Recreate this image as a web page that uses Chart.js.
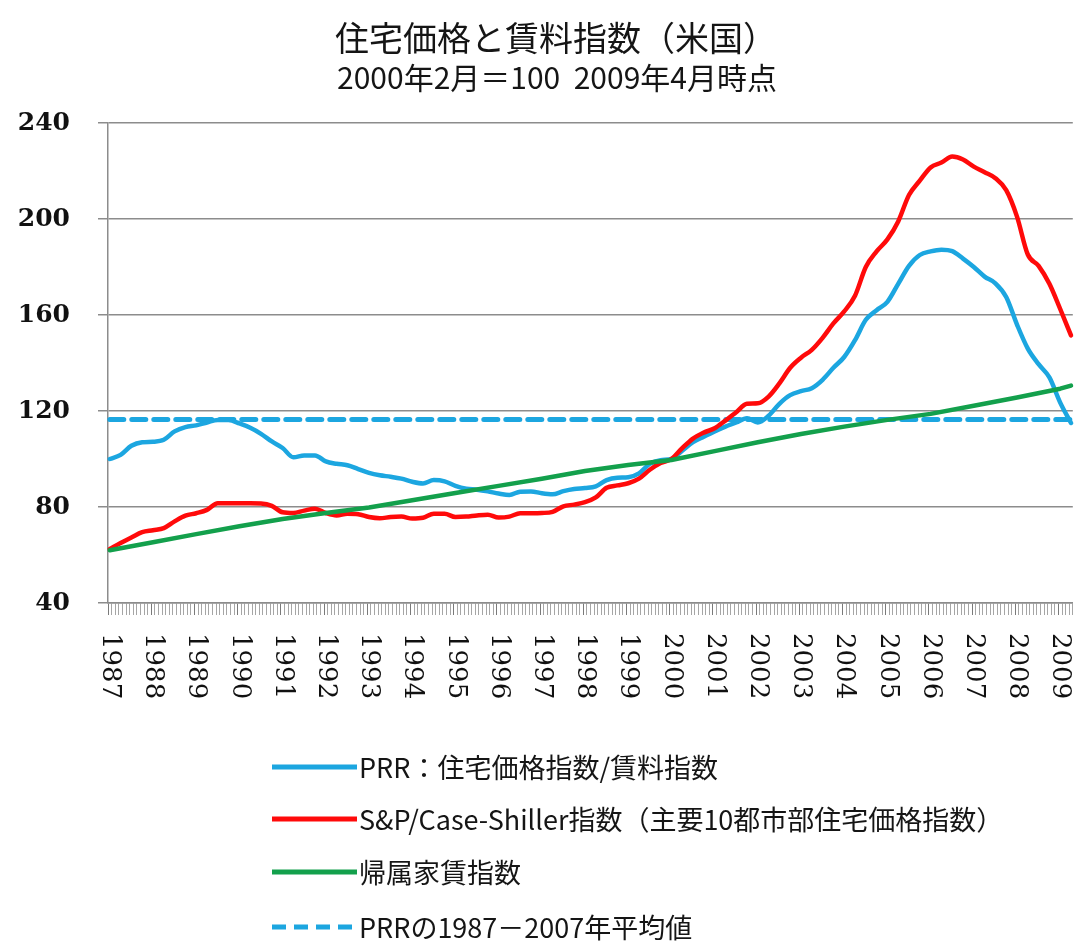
<!DOCTYPE html>
<html>
<head>
<meta charset="utf-8">
<script src="https://cdn.jsdelivr.net/npm/chart.js@4.4.1/dist/chart.umd.min.js"></script>
<style>
  html, body { margin: 0; padding: 0; background: #ffffff; }
  #wrap { width: 1074px; height: 941px; position: relative; }
</style>
</head>
<body>
<div id="wrap"><canvas id="c" width="1074" height="941"></canvas></div>
<script>
// ---------- texts ----------
const titleText = '住宅価格と賃料指数（米国）';
const subtitleText = '2000年2月＝100  2009年4月時点';

// ---------- categories / tick labels ----------
const yearLabels = ['1987','1988','1989','1990','1991','1992','1993','1994','1995','1996','1997','1998',
                    '1999','2000','2001','2002','2003','2004','2005','2006','2007','2008','2009'];
const lastMonthOf2009 = 4; // data run to April 2009

// ---------- series values ----------
// PRR (house price index / rent index), read at Jan, Apr, Jul, Oct of each year (1987-01 .. 2009-04)
const prrQuarterly = [
  100, 101.7, 105.5, 107,
  107.2, 108, 111.5, 113.3,
  114, 115.2, 116.3, 116.2,
  114.8, 113, 110.5, 107.3,
  104.6, 100.7, 101.5, 101.5,
  99, 98, 97.4, 95.8,
  94.2, 93.2, 92.6, 91.8,
  90.5, 89.8, 91.2, 90.7,
  88.8, 87.6, 87.2, 86.5,
  85.6, 85, 86.4, 86.5,
  85.7, 85.3, 86.6, 87.5,
  87.9, 88.6, 91.2, 92.2,
  92.4, 94, 98, 99.5,
  100, 103.5, 107, 109.3,
  111.5, 113.5, 115.2, 117,
  115.2, 118, 123, 126.6,
  128.3, 129.5, 133, 138,
  142.5, 149.5, 158, 162,
  165.5, 173, 180.5, 185,
  186.5, 187.2, 186.6, 183.5,
  180, 176, 173.2, 167.5,
  156, 146, 139.5, 134,
  123.5, 115
];
// S&P/Case-Shiller 10-city index, same quarterly reading points
const caseShillerQuarterly = [
  62.5, 65, 67.3, 69.5,
  70.3, 71.2, 74, 76.4,
  77.4, 78.8, 81.6, 81.6,
  81.6, 81.6, 81.5, 80.5,
  77.8, 77.5, 78.5, 79.3,
  77.5, 76.5, 77.2, 77,
  75.8, 75.3, 75.8, 76,
  75.2, 75.5, 77.2, 77.2,
  75.8, 76, 76.5, 76.8,
  75.6, 76, 77.4, 77.4,
  77.5, 78, 80.3, 81,
  82, 84, 88, 89,
  89.9, 91.8, 95.5, 98.3,
  100, 104.5, 108.5, 111,
  112.8, 116, 119.5, 123,
  123.2, 126, 131.5, 138,
  142.2, 145.5, 150.5, 156.5,
  161.5, 168, 180, 186.5,
  191.5, 199, 210, 216,
  221.5, 223.5, 226, 224.8,
  221.8, 219.5, 217, 212,
  201, 185.2, 180.5, 173,
  162.5, 151.5
];
// Owners' equivalent rent index, read each January 1987..2009, then April 2009
const rentAnnual = [62, 65.3, 68.7, 72, 75, 77.5, 79.8, 82.8, 85.8, 88.8, 91.8, 95, 97.5,
                    99.6, 103.3, 107, 110.4, 113.5, 116.3, 118.8, 122.2, 125.6, 129.3, 130.6];
// PRR average 1987-2007
const prrAverage = 116.5;

const seriesNames = [
  'PRR：住宅価格指数/賃料指数',
  'S&P/Case-Shiller指数（主要10都市部住宅価格指数）',
  '帰属家賃指数',
  'PRRの1987－2007年平均値'
];
const seriesColors = ['#1ca6e0', '#ff0a0a', '#13a04c', '#1ca6e0'];

// ---------- build monthly categories ----------
const monthLabels = [];
yearLabels.forEach(y => {
  const last = (y === '2009') ? lastMonthOf2009 : 12;
  for (let m = 1; m <= last; m++) monthLabels.push(y + '-' + String(m).padStart(2, '0'));
});
const lastIdx = monthLabels.length - 1;

const prrData = prrQuarterly.map((v, i) => ({ x: monthLabels[3 * i], y: v }));
const csData = caseShillerQuarterly.map((v, i) => ({ x: monthLabels[3 * i], y: v }));
const rentData = rentAnnual.map((v, i) => ({ x: monthLabels[i < yearLabels.length ? 12 * i : lastIdx], y: v }));
const avgData = [{ x: monthLabels[0], y: prrAverage }, { x: monthLabels[lastIdx], y: prrAverage }];

// ---------- overlay plugin: titles, rotated year labels, legend ----------
const overlay = {
  id: 'overlay',
  afterDraw(chart) {
    const ctx = chart.ctx;
    ctx.save();
    ctx.fillStyle = '#151515';
    ctx.textAlign = 'center';
    ctx.textBaseline = 'middle';
    ctx.font = '34px "Noto Sans CJK JP"';
    ctx.fillText(titleText, 556, 38);
    ctx.font = '30px "Noto Sans CJK JP"';
    ctx.fillText(subtitleText, 557, 78);

    // year labels, rotated 90° clockwise, reading top to bottom
    const xs = chart.scales.x;
    ctx.font = '26px "DejaVu Serif"';
    ctx.fillStyle = '#111';
    ctx.textAlign = 'left';
    ctx.textBaseline = 'middle';
    yearLabels.forEach(y => {
      const idx = monthLabels.indexOf(y + '-01');
      const px = xs.getPixelForValue(idx);
      ctx.save();
      ctx.translate(px, 633);
      ctx.rotate(Math.PI / 2);
      ctx.fillText(y, 0, 0);
      ctx.restore();
    });

    // legend (vertical list below the axis)
    const rows = [767, 819, 872, 927];
    chart.data.datasets.forEach((ds, i) => {
      const y = rows[i];
      ctx.save();
      ctx.strokeStyle = ds.borderColor;
      ctx.lineWidth = 5;
      ctx.lineCap = 'butt';
      ctx.setLineDash(ds.borderDash || []);
      ctx.beginPath();
      ctx.moveTo(272, y);
      ctx.lineTo(357, y);
      ctx.stroke();
      ctx.restore();
      ctx.fillStyle = '#151515';
      ctx.font = '27px "Noto Sans CJK JP"';
      ctx.textAlign = 'left';
      ctx.textBaseline = 'middle';
      ctx.fillText(ds.label, 359, y + 1);
    });
    ctx.restore();
  }
};

new Chart(document.getElementById('c'), {
  type: 'line',
  data: {
    labels: monthLabels,
    datasets: [
      { label: seriesNames[0], data: prrData, borderColor: seriesColors[0], borderWidth: 4.5, order: 3,
        cubicInterpolationMode: 'monotone' },
      { label: seriesNames[1], data: csData, borderColor: seriesColors[1], borderWidth: 4.5, order: 2,
        cubicInterpolationMode: 'monotone' },
      { label: seriesNames[2], data: rentData, borderColor: seriesColors[2], borderWidth: 4.5, order: 1 },
      { label: seriesNames[3], data: avgData, borderColor: seriesColors[3], borderWidth: 5, borderDash: [14, 8], order: 4 }
    ]
  },
  options: {
    responsive: false,
    animation: false,
    layout: { padding: { top: 123, left: 0, right: 1.2, bottom: 0 } },
    plugins: {
      legend: { display: false },
      title: { display: false },
      tooltip: { enabled: false }
    },
    elements: {
      point: { radius: 0, hoverRadius: 0 },
      line: { borderJoinStyle: 'round', borderCapStyle: 'round', fill: false }
    },
    scales: {
      x: {
        type: 'category',
        offset: true,
        grid: {
          offset: true,
          drawOnChartArea: false,
          drawTicks: true,
          tickLength: 12,
          lineWidth: 1,
          color: c => (c.index % 12 === 0 ? '#7a7a7a' : '#a6a6a6')
        },
        border: { display: true, color: '#8c8c8c', width: 1.5 },
        ticks: { display: false, autoSkip: false },
        afterFit(s) { s.height = 338; }
      },
      y: {
        min: 40,
        max: 240,
        ticks: {
          stepSize: 40,
          padding: 28,
          color: '#111',
          font: { family: 'DejaVu Serif', size: 25, weight: 'bold' }
        },
        grid: { color: '#8c8c8c', lineWidth: 1.5, tickLength: 10 },
        border: { display: true, color: '#8c8c8c', width: 1.5 },
        afterFit(s) { s.width = 108; }
      }
    }
  },
  plugins: [overlay]
});
</script>
</body>
</html>
